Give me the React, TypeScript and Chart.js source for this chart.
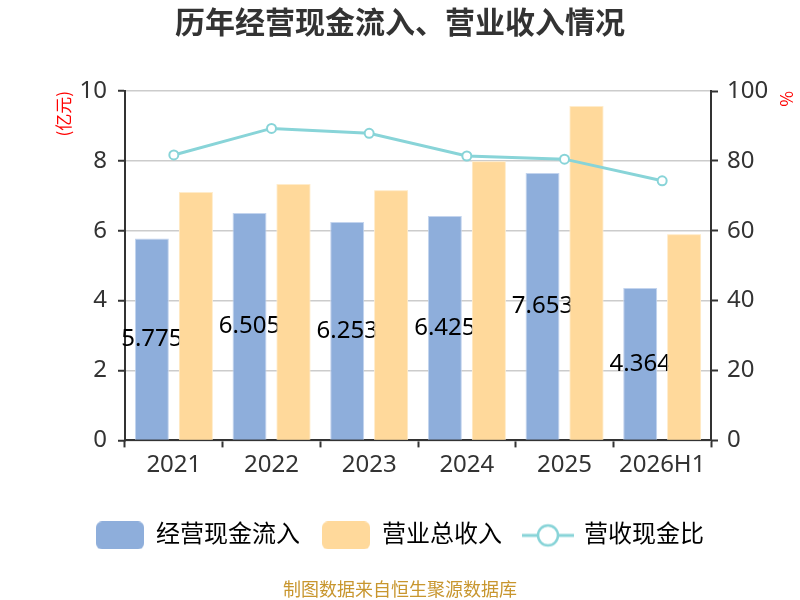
import React, { useEffect, useRef } from "react";
import { Chart, registerables } from "chart.js";

Chart.register(...registerables);

const years = ["2021", "2022", "2023", "2024", "2025", "2026H1"];
const cashInflow = [5.775, 6.505, 6.253, 6.425, 7.653, 4.364];
const revenue = [7.11, 7.34, 7.16, 7.99, 9.57, 5.9];
const cashRatio = [81.7, 89.3, 87.9, 81.4, 80.5, 74.3];
const leftTicks = [0, 2, 4, 6, 8, 10];
const rightTicks = [0, 20, 40, 60, 80, 100];
const legendNames = ["经营现金流入", "营业总收入", "营收现金比"];

const BLUE = "#8eaedb";
const ORANGE = "#ffd99b";
const TEAL = "#88d4d8";
const FONT = "'Noto Sans', 'Noto Sans CJK SC', sans-serif";
const CJK = "'Noto Sans CJK SC', sans-serif";

function boxIcon(color: string) {
  const c = document.createElement("canvas");
  c.width = 48;
  c.height = 28;
  const ctx = c.getContext("2d")!;
  ctx.fillStyle = color;
  ctx.beginPath();
  ctx.roundRect(0, 0, 48, 28, 6);
  ctx.fill();
  return c;
}

function lineIcon(color: string) {
  const c = document.createElement("canvas");
  c.width = 52;
  c.height = 28;
  const ctx = c.getContext("2d")!;
  ctx.strokeStyle = color;
  ctx.lineWidth = 3;
  ctx.beginPath();
  ctx.moveTo(0, 14);
  ctx.lineTo(52, 14);
  ctx.stroke();
  ctx.beginPath();
  ctx.arc(26, 14, 10, 0, Math.PI * 2);
  ctx.fillStyle = "#fff";
  ctx.fill();
  ctx.lineWidth = 2.5;
  ctx.stroke();
  return c;
}

// labels in the middle of the blue bars; the orange bars are painted again on top of them
const barLabels = {
  id: "barLabels",
  afterDatasetDraw(chart: any, args: any) {
    if (args.index !== 0) return;
    const { ctx, chartArea } = chart;
    ctx.save();
    ctx.font = "24px " + FONT;
    ctx.fillStyle = "#000";
    ctx.textAlign = "center";
    ctx.textBaseline = "middle";
    args.meta.data.forEach((bar: any, i: number) => {
      const { x, y, base } = bar.getProps(["x", "y", "base"], true);
      ctx.fillText(cashInflow[i].toFixed(3), x, (y + base) / 2);
    });
    ctx.restore();
    ctx.save();
    ctx.beginPath();
    ctx.rect(chartArea.left, chartArea.top, chartArea.right - chartArea.left, chartArea.bottom - chartArea.top);
    ctx.clip();
    chart.getDatasetMeta(1).data.forEach((bar: any) => bar.draw(ctx));
    ctx.restore();
  },
};

const App: React.FC = () => {
  const chartRef = useRef<HTMLCanvasElement | null>(null);

  useEffect(() => {
    if (!chartRef.current) return;
    const icons = [boxIcon(BLUE), boxIcon(ORANGE), lineIcon(TEAL)];

    const chart = new Chart(chartRef.current, {
      type: "bar",
      data: {
        labels: years,
        datasets: [
          {
            type: "bar",
            label: legendNames[0],
            data: cashInflow,
            backgroundColor: BLUE,
            borderColor: "#c3d4ee",
            borderWidth: 1,
            barPercentage: 0.773,
            categoryPercentage: 0.9,
            yAxisID: "y",
            order: 1,
          },
          {
            type: "bar",
            label: legendNames[1],
            data: revenue,
            backgroundColor: ORANGE,
            borderColor: "#ffeccb",
            borderWidth: 1,
            barPercentage: 0.773,
            categoryPercentage: 0.9,
            yAxisID: "y",
            order: 2,
          },
          {
            type: "line",
            label: legendNames[2],
            data: cashRatio,
            borderColor: TEAL,
            borderWidth: 3,
            pointRadius: 4.5,
            pointBorderWidth: 2,
            pointBackgroundColor: "#fff",
            pointBorderColor: TEAL,
            tension: 0,
            yAxisID: "y1",
            order: 0,
          },
        ],
      } as any,
      options: {
        responsive: false,
        animation: false,
        layout: { padding: 0 },
        font: { family: FONT },
        plugins: {
          title: {
            display: true,
            text: "历年经营现金流入、营业收入情况",
            color: "#333",
            font: { size: 30, weight: "bold", family: CJK },
            padding: { top: 4, bottom: 51 },
          },
          subtitle: {
            display: true,
            position: "bottom",
            text: "制图数据来自恒生聚源数据库",
            color: "#c8962e",
            font: { size: 18, family: CJK },
            padding: { top: 21, bottom: 0 },
          },
          legend: {
            position: "bottom",
            labels: {
              usePointStyle: true,
              pointStyleWidth: 48,
              boxHeight: 24,
              padding: 22,
              color: "#333",
              font: { size: 24, family: FONT },
              generateLabels: () =>
                legendNames.map((text, i) => ({
                  text,
                  pointStyle: icons[i],
                  fillStyle: "transparent",
                  strokeStyle: "transparent",
                  lineWidth: 0,
                  hidden: false,
                  datasetIndex: i,
                })) as any,
            },
          },
          tooltip: { enabled: false },
        },
        scales: {
          x: {
            offset: true,
            grid: {
              display: true,
              drawOnChartArea: false,
              offset: true,
              tickLength: 7,
              tickColor: "#333",
              tickWidth: 2,
            },
            border: { color: "#333", width: 2 },
            ticks: { color: "#333", font: { size: 24, family: FONT }, padding: 3 },
            afterFit: (s: any) => {
              s.height = 61;
            },
          },
          y: {
            position: "left",
            min: 0,
            max: 10,
            afterBuildTicks: (s: any) => {
              s.ticks = leftTicks.map((value) => ({ value }));
            },
            grid: {
              color: "#cccccc",
              lineWidth: 1.5,
              tickColor: "#333",
              tickLength: 7,
              tickWidth: 2,
            },
            border: { color: "#333", width: 2 },
            ticks: { color: "#333", font: { size: 24, family: FONT }, padding: 11 },
            title: {
              display: true,
              text: "(亿元)",
              color: "#ff0000",
              align: "end",
              font: { size: 17, family: CJK },
              padding: { top: 53, bottom: 0 },
            },
            afterFit: (s: any) => {
              s.width = 125;
            },
          },
          y1: {
            position: "right",
            min: 0,
            max: 100,
            afterBuildTicks: (s: any) => {
              s.ticks = rightTicks.map((value) => ({ value }));
            },
            grid: {
              drawOnChartArea: false,
              tickColor: "#333",
              tickLength: 7,
              tickWidth: 2,
            },
            border: { color: "#333", width: 2 },
            ticks: { color: "#333", font: { size: 24, family: FONT }, padding: 9 },
            title: {
              display: true,
              text: "%",
              color: "#ff0000",
              align: "end",
              font: { size: 17, family: CJK },
              padding: { top: 3, bottom: 0 },
            },
            afterFit: (s: any) => {
              s.width = 89;
            },
          },
        },
      } as any,
      plugins: [barLabels],
    });

    return () => {
      chart.destroy();
    };
  }, []);

  return (
    <div style={{ position: "absolute", left: 0, top: 0, width: 800, height: 600, background: "#fff" }}>
      <canvas ref={chartRef} width={800} height={600}></canvas>
    </div>
  );
};

export default App;
